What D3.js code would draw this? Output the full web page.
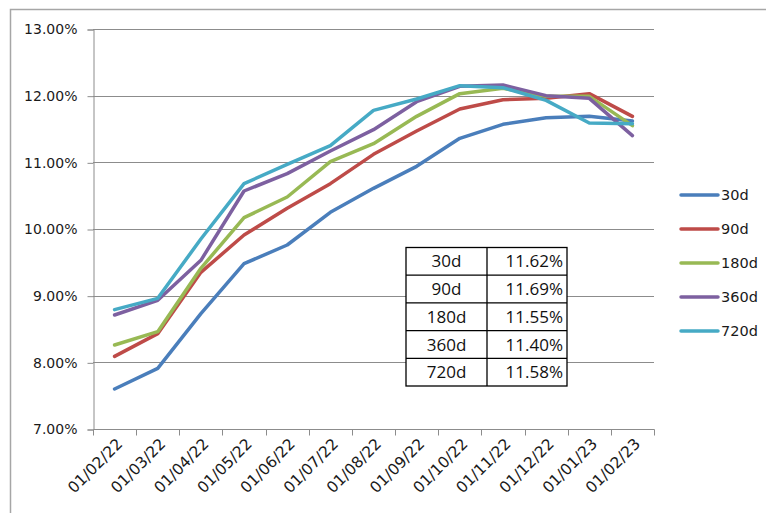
<!DOCTYPE html>
<html>
<head>
<meta charset="utf-8">
<script src="https://cdn.jsdelivr.net/npm/d3@7"></script>
<style>
  html, body { margin: 0; padding: 0; background: #fff; }
  svg { display: block; }
</style>
</head>
<body>
<svg id="chart" width="766" height="513"></svg>
<script>
const categories = ["01/02/22","01/03/22","01/04/22","01/05/22","01/06/22","01/07/22","01/08/22","01/09/22","01/10/22","01/11/22","01/12/22","01/01/23","01/02/23"];
const seriesNames = ["30d","90d","180d","360d","720d"];
const s30  = [7.60, 7.91, 8.73, 9.48, 9.76, 10.25, 10.61, 10.94, 11.36, 11.57, 11.67, 11.69, 11.62];
const s90  = [8.09, 8.43, 9.35, 9.91, 10.31, 10.68, 11.12, 11.47, 11.80, 11.94, 11.96, 12.03, 11.69];
const s180 = [8.26, 8.46, 9.41, 10.17, 10.48, 11.01, 11.28, 11.69, 12.03, 12.11, 11.99, 11.99, 11.55];
const s360 = [8.71, 8.93, 9.53, 10.57, 10.83, 11.17, 11.49, 11.91, 12.14, 12.16, 12.00, 11.96, 11.40];
const s720 = [8.79, 8.96, 9.85, 10.68, 10.97, 11.25, 11.78, 11.95, 12.15, 12.12, 11.93, 11.59, 11.58];
const yTicks = [7, 8, 9, 10, 11, 12, 13];
const tableValues = ["11.62%","11.69%","11.55%","11.40%","11.58%"];
const colors = ["#4A7EBB","#BE4B48","#98B954","#7D60A0","#46AAC5"];
const seriesData = [s30, s90, s180, s360, s720];

const svg = d3.select("#chart");
const pLeft = 93, pRight = 654, pTop = 29, pBottom = 429;
const FONT = "DejaVu Sans";

// outer border (top + left visible)
svg.append("path").attr("d", "M10.5,513 L10.5,9.5 L766,9.5")
  .attr("fill","none").attr("stroke","#a6a6a6").attr("stroke-width",1.5);

const x = d3.scaleBand().domain(categories).range([pLeft, pRight]).padding(0);
const y = d3.scaleLinear().domain([7, 13]).range([pBottom, pTop]);
const cx = d => x(d) + x.bandwidth() / 2;

// gridlines
svg.append("g").selectAll("line").data(yTicks.filter(t => t > 7)).join("line")
  .attr("x1", pLeft).attr("x2", pRight)
  .attr("y1", d => Math.round(y(d)) + 0.5).attr("y2", d => Math.round(y(d)) + 0.5)
  .attr("stroke", "#8c8c8c").attr("stroke-width", 1);

// y axis
const yAxis = d3.axisLeft(y).tickValues(yTicks).tickSize(6).tickPadding(10)
  .tickFormat(d => d.toFixed(2) + "%");
const gy = svg.append("g").attr("transform", `translate(${pLeft + 0.5},0.5)`).call(yAxis);
gy.select(".domain").attr("stroke", "#8c8c8c");
gy.selectAll(".tick line").attr("stroke", "#8c8c8c");
gy.selectAll("text").attr("font-family", FONT).attr("font-size", 14).attr("fill", "#1a1a1a");

// x axis
const gx = svg.append("g").attr("transform", `translate(0.5,${pBottom + 0.5})`);
gx.append("line").attr("x1", pLeft).attr("x2", pRight).attr("stroke", "#8c8c8c");
const tickPos = categories.map(c => x(c)).concat([pRight]);
gx.selectAll("line.tk").data(tickPos).join("line").attr("class","tk")
  .attr("x1", d => Math.round(d)).attr("x2", d => Math.round(d))
  .attr("y1", 0).attr("y2", 6).attr("stroke", "#8c8c8c");
svg.append("g").selectAll("text").data(categories).join("text")
  .attr("transform", d => `translate(${cx(d) + 5},${pBottom + 12}) rotate(-45)`)
  .attr("text-anchor", "end").attr("dy", "0.35em")
  .attr("font-family", FONT).attr("font-size", 15.5).attr("fill", "#1a1a1a")
  .text(d => d);

// lines
const line = d3.line().x((d, i) => cx(categories[i])).y(d => y(d));
svg.append("g").selectAll("path").data(seriesData).join("path")
  .attr("d", d => line(d))
  .attr("fill", "none")
  .attr("stroke", (d, i) => colors[i])
  .attr("stroke-width", 3.5)
  .attr("stroke-linejoin", "round")
  .attr("stroke-linecap", "round");

// legend
const lg = svg.append("g");
seriesNames.forEach((n, i) => {
  const ly = 195 + i * 34;
  lg.append("line").attr("x1", 681).attr("x2", 718).attr("y1", ly).attr("y2", ly)
    .attr("stroke", colors[i]).attr("stroke-width", 3.5).attr("stroke-linecap", "round");
  lg.append("text").attr("x", 721).attr("y", ly).attr("dy", "0.36em")
    .attr("font-family", FONT).attr("font-size", 14.5).attr("fill", "#1a1a1a").text(n);
});

// table
const tX0 = 406, tX1 = 487, tX2 = 567, tY0 = 247.5, rowH = 27.7;
const tg = svg.append("g");
tg.append("rect").attr("x", tX0).attr("y", tY0).attr("width", tX2 - tX0).attr("height", rowH * 5)
  .attr("fill", "#fff").attr("stroke", "#000").attr("stroke-width", 1.3);
tg.append("line").attr("x1", tX1).attr("x2", tX1).attr("y1", tY0).attr("y2", tY0 + rowH * 5)
  .attr("stroke", "#000").attr("stroke-width", 1.3);
d3.range(1, 5).forEach(r => {
  tg.append("line").attr("x1", tX0).attr("x2", tX2).attr("y1", tY0 + r * rowH).attr("y2", tY0 + r * rowH)
    .attr("stroke", "#000").attr("stroke-width", 1.3);
});
seriesNames.forEach((n, r) => {
  const ty = tY0 + r * rowH + rowH / 2;
  tg.append("text").attr("x", (tX0 + tX1) / 2).attr("y", ty).attr("dy", "0.36em")
    .attr("text-anchor", "middle").attr("font-family", "Open Sans").attr("font-size", 17)
    .attr("fill", "#111").text(n);
  tg.append("text").attr("x", tX2 - 4).attr("y", ty).attr("dy", "0.36em")
    .attr("text-anchor", "end").attr("font-family", "Open Sans").attr("font-size", 17)
    .attr("fill", "#111").text(tableValues[r]);
});
</script>
</body>
</html>
